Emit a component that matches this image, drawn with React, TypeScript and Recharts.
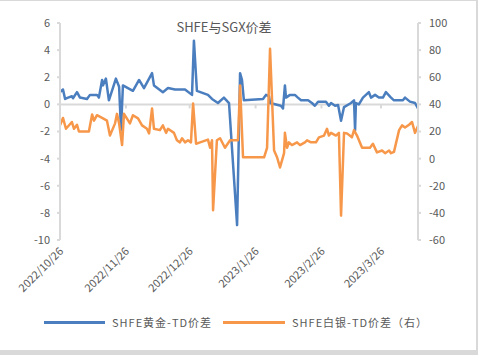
import React from "react";
import { LineChart, Line, XAxis, YAxis, ReferenceLine } from "recharts";

// x = days since 2022/10/26
const goldDays = [0, 1.4, 2.4, 3.8, 5.6, 6.1, 8.0, 9.4, 12.7, 14.1, 17.4, 18.3, 19.8, 20.2, 21.6, 23.0, 26.3, 27.8, 28.7, 29.6, 34.3, 37.2, 39.5, 43.3, 44.2, 48.4, 50.8, 54.1, 58.8, 62.1, 63.0, 64.4, 69.6, 71.5, 74.3, 77.1, 79.5, 83.3, 84.7, 85.6, 86.5, 95.5, 96.9, 98.3, 98.8, 103.9, 104.9, 105.8, 106.3, 108.2, 110.5, 111.9, 113.4, 116.7, 118.5, 119.9, 121.4, 125.1, 126.5, 127.5, 129.4, 130.8, 132.2, 133.6, 136.9, 138.3, 138.8, 139.2, 140.6, 142.5, 145.3, 146.3, 148.2, 150.0, 151.9, 153.3, 155.7, 157.1, 161.3, 162.3, 164.6, 167.0, 168.4];
const goldValues = [0.9, 1.1, 0.4, 0.5, 0.6, 0.45, 0.9, 0.5, 0.4, 0.7, 0.7, 0.5, 1.8, 1.4, 1.9, 0.3, 1.9, 1.3, -1.9, 1.4, 1.0, 1.8, 1.2, 2.3, 1.4, 0.9, 1.2, 1.1, 1.1, 0.7, 4.7, 1.0, 0.7, 0.4, 0.1, 0.5, 0.1, -8.9, 2.3, 1.8, 0.3, 0.4, 0.7, 0.6, 0.1, -0.1, -0.3, 1.4, 0.5, 0.7, 0.7, 0.5, 0.3, 0.3, 0.1, -0.1, 0.2, 0.2, -0.1, 0.1, -0.1, -0.05, -1.2, -0.2, 0.1, 0.3, -1.9, 0.1, 0.0, 0.5, 0.9, 0.5, 0.7, 0.5, 0.5, 0.9, 0.5, 0.3, 0.3, 0.5, 0.2, 0.1, -0.3];

const silverDays = [0, 1.4, 2.8, 5.6, 6.6, 8.0, 8.9, 13.6, 15.1, 16.0, 17.4, 20.2, 22.1, 23.5, 25.9, 26.8, 27.8, 29.2, 30.1, 32.9, 34.3, 36.7, 38.6, 40.9, 41.9, 43.3, 44.2, 47.0, 48.4, 49.9, 50.8, 53.6, 55.0, 56.4, 57.4, 58.8, 60.2, 61.6, 62.6, 64.0, 65.9, 69.6, 70.6, 71.5, 72.0, 73.8, 75.3, 77.6, 80.0, 83.7, 84.7, 86.1, 96.0, 97.4, 98.8, 100.7, 102.1, 103.5, 105.4, 105.8, 106.8, 107.7, 109.1, 111.5, 112.9, 115.2, 116.2, 118.1, 120.4, 121.8, 124.2, 125.6, 126.5, 127.5, 129.8, 131.2, 132.2, 133.6, 135.0, 137.3, 138.3, 139.7, 142.1, 145.8, 147.2, 149.1, 151.5, 152.9, 154.8, 155.7, 157.1, 159.5, 160.9, 162.3, 164.2, 165.6, 167.0, 168.4];
const silverValues = [24.5, 30, 22, 27, 22, 25, 20, 20, 32.6, 28, 32, 29.7, 28, 17, 26, 33, 26, 10, 33, 26, 32, 29.7, 24.5, 22, 18.6, 37, 22, 21, 24.5, 19, 22, 19, 13.5, 12, 15, 12, 13.5, 12, 40.7, 11, 12, 14, 8, 13.5, -38, 13.5, 15, 8, 13.5, 13.5, 54, 1, 1, 8, 81, 6, 1, -6.5, 4, 19, 8, 12, 10, 12, 10, 12, 13.5, 12, 12, 15.7, 17, 22, 17, 19, 17, 19, -42, 19, 18.6, 15.7, 21, 17, 8, 8, 11, 4.6, 6, 4, 6, 4, 5, 21, 24.5, 23, 25, 27, 19, 24];

const tickDays = [0, 31, 61, 92, 123, 151];
const tickLabels = ["2022/10/26", "2022/11/26", "2022/12/26", "2023/1/26", "2023/2/26", "2023/3/26"];
const leftTicks = [-10, -8, -6, -4, -2, 0, 2, 4, 6];
const rightTicks = [-60, -40, -20, 0, 20, 40, 60, 80, 100];

const title = "SHFE与SGX价差";
const goldName = "SHFE黄金-TD价差";
const silverName = "SHFE白银-TD价差（右）";

const goldData = goldDays.map((d, i) => ({ d, v: goldValues[i] }));
const silverData = silverDays.map((d, i) => ({ d, v: silverValues[i] }));

const BLUE = "#4A7EBF";
const ORANGE = "#F7974A";
const GRID = "#D9D9D9";
const TEXT = "#595959";
const FONT = "'Noto Sans CJK SC', 'Noto Sans', sans-serif";

const XTick = (props: any) => {
  const { x, y, payload } = props;
  const idx = tickDays.indexOf(payload.value);
  const label = idx >= 0 ? tickLabels[idx] : "";
  return (
    <text
      x={x + 4}
      y={y + 4}
      transform={`rotate(-45 ${x + 4} ${y + 4})`}
      textAnchor="end"
      fill={TEXT}
      fontSize={11}
      fontFamily={FONT}
    >
      {label}
    </text>
  );
};

export default function App() {
  return (
    <div
      style={{
        position: "absolute",
        left: 0,
        top: 0,
        width: 478,
        height: 355,
        background: "#fff",
        fontFamily: FONT,
      }}
    >
      <div style={{ position: "absolute", left: 0, top: 0, width: 478, height: 1, background: GRID }} />
      <div style={{ position: "absolute", left: 476, top: 0, width: 2, height: 355, background: GRID }} />
      <div style={{ position: "absolute", left: 0, top: 350, width: 478, height: 5, background: GRID }} />
      <LineChart
        width={478}
        height={355}
        margin={{ top: 23, right: 0, bottom: 0, left: 0 }}
      >
        <XAxis
          dataKey="d"
          type="number"
          domain={[0, 168.4]}
          ticks={tickDays}
          interval={0}
          axisLine={false}
          tickLine={false}
          height={115}
          tick={<XTick />}
          allowDuplicatedCategory={false}
        />
        <YAxis
          yAxisId="left"
          width={60}
          domain={[-10, 6]}
          ticks={leftTicks}
          interval={0}
          axisLine={{ stroke: GRID, strokeWidth: 2 }}
          tickLine={{ stroke: GRID, strokeWidth: 2 }}
          tickSize={3}
          tickMargin={7}
          tick={{ fill: TEXT, fontSize: 11, fontFamily: FONT }}
        />
        <YAxis
          yAxisId="right"
          orientation="right"
          width={60}
          domain={[-60, 100]}
          ticks={rightTicks}
          interval={0}
          axisLine={{ stroke: GRID, strokeWidth: 2 }}
          tickLine={{ stroke: GRID, strokeWidth: 2 }}
          tickSize={3}
          tickMargin={8}
          tick={{ fill: TEXT, fontSize: 11, fontFamily: FONT }}
        />
        <ReferenceLine yAxisId="left" y={0} stroke={GRID} strokeWidth={2} />
        {tickDays.map((t) => (
          <ReferenceLine
            key={t}
            yAxisId="left"
            segment={[
              { x: t, y: 0 },
              { x: t, y: -0.3 },
            ]}
            stroke={GRID}
            strokeWidth={2}
          />
        ))}
        <Line
          yAxisId="left"
          data={goldData}
          dataKey="v"
          type="linear"
          stroke={BLUE}
          strokeWidth={2.5}
          dot={false}
          isAnimationActive={false}
          strokeLinejoin="round"
        />
        <Line
          yAxisId="right"
          data={silverData}
          dataKey="v"
          type="linear"
          stroke={ORANGE}
          strokeWidth={2.5}
          dot={false}
          isAnimationActive={false}
          strokeLinejoin="round"
        />
        <text x={224} y={32} textAnchor="middle" fill={TEXT} fontSize={13} fontFamily={FONT}>
          {title}
        </text>
      </LineChart>
      <div style={{ position: "absolute", left: 44, top: 321, width: 61, height: 3, background: BLUE }} />
      <div style={{ position: "absolute", left: 112, top: 313, fontSize: 11, color: TEXT, letterSpacing: 1, whiteSpace: "nowrap", lineHeight: "18px" }}>
        {goldName}
      </div>
      <div style={{ position: "absolute", left: 223, top: 321, width: 62, height: 3, background: ORANGE }} />
      <div style={{ position: "absolute", left: 292, top: 313, fontSize: 11, color: TEXT, letterSpacing: 1, whiteSpace: "nowrap", lineHeight: "18px" }}>
        {silverName}
      </div>
    </div>
  );
}
